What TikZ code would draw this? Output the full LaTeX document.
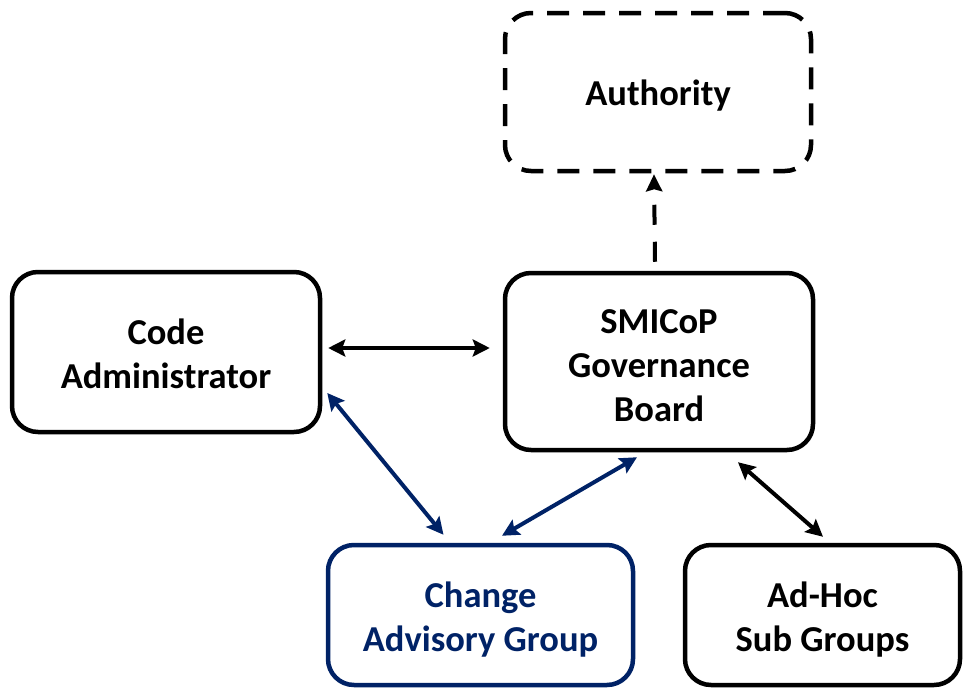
\documentclass[tikz,border=0pt]{standalone}
\usepackage{fontspec}
\setmainfont{Carlito}
\usetikzlibrary{arrows.meta}
\definecolor{navy}{RGB}{0,34,102}
\tikzset{
  box/.style={draw, line width=4.5pt, rounded corners=26pt, inner sep=0pt},
  txt/.style={align=center, font=\bfseries\fontsize{36.5}{44}\selectfont, inner sep=0pt},
  arr/.style={line width=4pt, {Stealth[length=17pt,width=17pt,inset=3pt]}-{Stealth[length=17pt,width=17pt,inset=3pt]}},
  uparr/.style={line width=4pt, -{Stealth[length=17pt,width=16pt,inset=2pt]}, dash pattern=on 20pt off 17pt},
}
\begin{document}
\begin{tikzpicture}[x=1pt,y=-1pt]
\useasboundingbox (0,0) rectangle (963,688);
\node[box, dash pattern=on 22pt off 14pt, minimum width=306pt, minimum height=158pt] (auth) at (658,92) {};
\node[txt] (autht) at ([yshift=-4pt]auth.center) {Authority};
\node[box, minimum width=308pt, minimum height=177pt] (gb) at (659,361.5) {};
\node[txt] (gbt) at ([yshift=-4pt]gb.center) {SMICoP\\Governance\\Board};
\node[box, minimum width=308pt, minimum height=160pt] (ca) at (166,352) {};
\node[txt] (cat) at ([yshift=-2pt]ca.center) {Code\\Administrator};
\node[box, draw=navy, minimum width=305pt, minimum height=140pt] (cag) at (480.5,615) {};
\node[txt, text=navy] (cagt) at ([yshift=-5pt]cag.center) {Change\\Advisory Group};
\node[box, minimum width=275pt, minimum height=140pt] (ah) at (822.5,615) {};
\node[txt] (aht) at ([yshift=-5pt]ah.center) {Ad-Hoc\\Sub Groups};
\draw[arr] ([xshift=6pt,yshift=4pt]ca.east) -- ([xshift=-13pt,yshift=4pt]ca.east -| gb.west);
\draw[uparr] ([xshift=-4pt,yshift=9pt]gb.north) -- ([xshift=-4pt,yshift=-1pt]auth.south);
\draw[arr, navy] ([xshift=5pt,yshift=-41pt]ca.east) -- ([xshift=-37pt,yshift=8pt]cag.north);
\draw[arr, navy] ([xshift=21.5pt,yshift=7pt]cag.north) -- ([xshift=-22pt,yshift=-5pt]gb.south);
\draw[arr] ([xshift=79pt,yshift=-10pt]gb.south) -- ([xshift=0.5pt,yshift=6pt]ah.north);
\end{tikzpicture}
\end{document}
